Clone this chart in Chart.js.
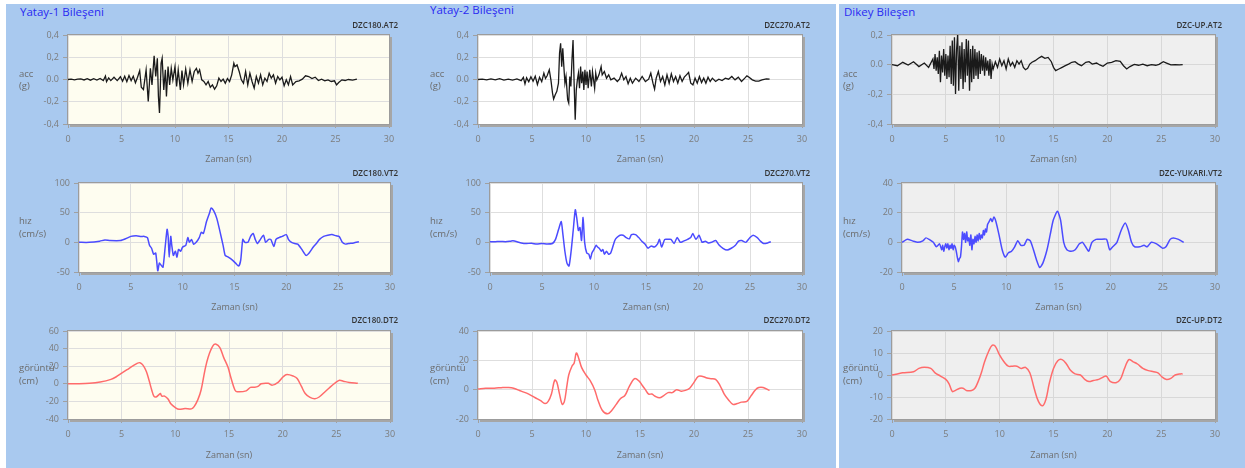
<!DOCTYPE html>
<html><head><meta charset="utf-8">
<script src="https://cdn.jsdelivr.net/npm/chart.js@4.4.0/dist/chart.umd.min.js"></script>
<style>
html,body{margin:0;padding:0;background:#fff;}
#page{position:relative;width:1245px;height:468px;overflow:hidden;background:#fff;font-family:"Open Sans",sans-serif;}
.blue{position:absolute;background:#a9c9ef;}
canvas{position:absolute;}
.hdr{position:absolute;color:#2a2af2;font-size:11.5px;line-height:14px;white-space:nowrap;}
.ttl{position:absolute;color:#333;font-size:8px;font-weight:600;line-height:10px;white-space:nowrap;transform:translateX(-100%);}
.yt{position:absolute;color:#6b6b6b;font-size:9.5px;white-space:nowrap;}
</style></head>
<body>
<div id="page">
  <div class="blue" style="left:6px;top:4px;width:830px;height:464px"></div>
  <div class="blue" style="left:839px;top:4px;width:406px;height:464px"></div>
  <div class="hdr" style="left:20px;top:5px">Yatay-1 Bileşeni</div>
  <div class="hdr" style="left:430px;top:3px">Yatay-2 Bileşeni</div>
  <div class="hdr" style="left:844px;top:5px">Dikey Bileşen</div>
</div>
<script>
// ---------- data ----------
const xTicks = [0,5,10,15,20,25,30];
const xTickLabels = ['0','5','10','15','20','25','30'];
const accTicksA = [-0.4,-0.2,0,0.2,0.4];
const accLabelsA = ['-0,4','-0,2','0.0','0,2','0,4'];
const accTicksB = [-0.4,-0.2,0,0.2];
const accLabelsB = ['-0,4','-0,2','0.0','0,2'];
const velTicksA = [-50,0,50,100];
const velLabelsA = ['-50','0','50','100'];
const velTicksB = [-20,0,20,40];
const velLabelsB = ['-20','0','20','40'];
const dispTicksA = [-40,-20,0,20,40,60];
const dispLabelsA = ['-40','-20','0','20','40','60'];
const dispTicksB = [-20,0,20,40];
const dispLabelsB = ['-20','0','20','40'];
const dispTicksC = [-20,-10,0,10,20];
const dispLabelsC = ['-20','-10','0','10','20'];

const acc1T = [0,0.3,0.6,0.9,1.2,1.5,1.8,2.1,2.4,2.7,3.0,3.3,3.5,3.6,3.8,4.0,4.3,4.6,4.9,5.1,5.3,5.5,5.7,5.9,6.1,6.3,6.5,
6.7,6.85,7.05,7.3,7.5,7.7,7.85,8.05,8.2,8.35,8.45,8.55,8.7,8.8,8.95,9.1,9.2,9.35,9.5,9.65,9.8,10.0,10.15,10.3,10.5,10.65,10.8,11.0,11.2,11.4,11.6,11.8,12.0,12.15,12.3,12.5,12.7,12.9,13.1,13.3,13.5,13.7,13.9,14.1,14.3,14.5,14.7,14.9,15.1,15.3,15.5,15.6,15.8,16.0,16.2,16.4,16.6,16.8,17.0,17.2,17.4,17.6,17.8,18.0,18.2,18.4,18.6,18.8,19.0,19.2,19.4,19.6,19.8,20.0,20.2,20.4,20.6,20.8,21.0,21.3,21.6,21.9,22.2,22.5,22.8,23.1,23.4,23.7,24.0,24.3,24.6,24.9,25.1,25.3,25.6,25.9,26.2,26.6,27.0];
const acc1V = [0,0.003,-0.003,0.004,0.006,-0.004,0.008,-0.006,0.007,-0.005,0.01,-0.01,0.03,-0.02,0.015,-0.01,0.02,-0.01,0.025,-0.015,0.03,-0.02,0.035,-0.01,0.03,-0.03,0.02,
0.08,-0.07,-0.09,0.087,-0.197,0.1,-0.048,0.212,0.027,0.191,-0.152,-0.30,0.146,0.191,-0.093,0.087,-0.152,0.116,-0.048,0.1,-0.003,0.116,-0.063,0.087,-0.093,0.08,-0.048,0.093,-0.033,0.087,-0.018,0.072,0.1,0.057,0.087,-0.003,-0.018,-0.048,-0.018,-0.069,-0.048,-0.087,-0.057,0.012,-0.018,0.003,-0.033,0.009,-0.018,0.042,0.146,0.116,0.131,0.072,-0.003,-0.033,0.072,-0.048,0.057,-0.018,-0.078,0.027,-0.033,0.042,-0.048,0.012,-0.018,0.057,0.012,0.042,-0.033,0.027,-0.003,0.021,-0.057,-0.003,-0.048,0.027,-0.048,-0.018,-0.012,0.003,0.033,0.027,0.009,0.021,-0.009,0.003,-0.012,-0.003,-0.018,-0.012,-0.048,-0.027,-0.003,-0.009,0,-0.006,0.003];

const acc2T = [0,0.4,0.8,1.2,1.6,2.0,2.4,2.8,3.2,3.6,4.0,4.2,4.35,4.5,4.7,4.9,5.1,5.3,5.5,5.7,5.9,
6.1,6.25,6.4,6.6,6.75,6.9,7.0,7.15,7.3,7.45,7.55,7.65,7.75,7.85,7.95,8.05,8.15,8.3,8.4,8.5,8.6,8.7,8.8,8.9,9.0,9.1,9.2,9.3,9.4,9.5,9.6,9.7,9.8,9.9,10.0,10.1,10.2,10.35,10.5,10.6,10.8,10.9,11.0,11.2,11.4,11.5,11.7,11.9,12.1,12.3,12.6,12.9,13.1,13.3,13.5,13.7,13.9,14.1,14.3,14.6,14.9,15.2,15.5,15.8,16.0,16.2,16.35,16.5,16.7,16.9,17.1,17.3,17.5,17.7,17.9,18.1,18.3,18.5,18.7,18.9,19.1,19.3,19.5,19.7,19.9,20.1,20.3,20.5,20.7,20.9,21.1,21.3,21.5,21.7,22.0,22.3,22.6,22.9,23.2,23.5,23.8,24.1,24.4,24.7,24.9,25.1,25.4,25.7,26.0,26.3,26.7,27.0];
const acc2V = [0,0.004,-0.003,0.005,-0.004,0.008,-0.006,0.004,-0.005,0.006,-0.01,0.02,-0.04,0.015,-0.02,0.025,-0.015,0.03,-0.045,0.02,-0.02,
0.057,0.01,0.033,0.087,-0.003,-0.122,-0.176,-0.137,-0.107,-0.033,0.236,0.325,0.116,0.281,0.116,-0.033,0.027,-0.182,-0.212,0.027,-0.063,0.176,0.355,-0.033,-0.361,-0.093,-0.003,0.057,-0.078,0.116,-0.033,0.072,-0.093,0.087,-0.048,0.072,-0.078,0.087,-0.063,0.072,-0.078,0.057,-0.003,0.042,0.116,0.042,0.072,0.012,0.042,-0.003,0.012,-0.018,0.003,0.057,-0.003,0.027,-0.039,0.012,-0.033,0.012,-0.018,0.027,-0.018,0.003,0.057,-0.033,-0.087,0.012,0.072,-0.018,0.027,-0.048,0.042,-0.033,0.051,-0.018,0.027,-0.033,0.033,-0.018,0.021,0.042,0.063,-0.033,-0.048,0.012,-0.033,0.027,-0.027,0.012,-0.033,0.021,-0.018,0.012,-0.018,0.003,-0.009,0.012,0.003,0.027,-0.003,0.021,-0.018,0.012,0.033,0.021,-0.003,-0.015,-0.015,-0.003,0.006,0.003];

const acc3T = [0,0.5,1.0,1.5,2.0,2.5,3.0,3.4,3.8,3.9,4.0,4.1,4.2,4.3,4.4,4.5,4.6,4.7,4.8,4.9,5.0,5.1,5.2,5.3,5.4,5.5,5.6,5.7,5.8,5.9,6.0,6.1,6.2,6.3,6.4,6.5,6.6,6.7,6.8,6.9,7.0,7.1,7.2,7.3,7.4,7.5,7.6,7.7,7.8,7.9,8.0,8.1,8.2,8.3,8.4,8.5,8.6,8.7,8.8,8.9,9.0,9.1,9.2,9.3,9.4,9.6,9.8,10.0,10.2,10.4,10.6,10.8,11.0,11.2,11.4,11.6,11.8,12.0,12.2,12.4,12.6,12.8,13.0,13.3,13.6,13.9,14.2,14.5,14.8,15.0,15.2,15.5,15.8,16.1,16.4,16.7,17.0,17.3,17.6,18.0,18.3,18.6,19.0,19.3,19.6,20.0,20.4,20.8,21.2,21.5,21.8,22.1,22.5,22.9,23.3,23.7,24.1,24.5,24.8,25.2,25.5,25.9,26.3,26.7,27.0];
const acc3V = [0,-0.007,0.016,-0.002,0.02,-0.013,0.011,-0.018,0.038,-0.029,0.072,-0.04,0.049,-0.063,0.094,-0.119,0.061,-0.052,0.106,-0.074,0.072,-0.097,0.061,-0.085,0.128,-0.13,0.162,-0.142,0.184,-0.198,0.106,0.207,-0.175,0.128,-0.097,0.151,-0.164,0.106,-0.119,0.173,-0.074,0.162,-0.175,0.106,-0.119,0.128,-0.097,0.106,-0.074,0.083,-0.097,0.094,-0.063,0.072,-0.04,0.061,-0.074,0.049,-0.04,0.027,-0.074,0.038,-0.097,0.004,-0.029,0.02,-0.018,0.038,-0.007,0.027,-0.029,0.038,-0.007,0.016,-0.018,0.027,0.004,0.027,-0.018,-0.034,-0.025,0.004,0.016,0.027,0.043,0.056,0.043,0.049,0.02,-0.018,-0.04,-0.029,-0.018,-0.007,0.004,0.016,0.02,0.004,-0.007,0.016,0.02,0.004,0.011,-0.002,-0.011,0.011,0.016,0.027,0.022,-0.007,-0.029,-0.013,0.002,-0.004,0.004,-0.007,0,-0.004,0.002,0.02,0.011,-0.002,0,-0.002,0];

const vel1T = [0,1,2,2.5,3,4,4.5,5,5.5,6,6.3,6.6,6.8,7.0,7.2,7.4,7.6,7.75,7.9,8.1,8.3,8.5,8.6,8.7,8.85,8.95,9.1,9.3,9.45,9.6,9.8,10.0,10.3,10.5,10.65,10.85,11.05,11.3,11.6,11.8,12.0,12.3,12.6,12.75,13.0,13.3,13.6,13.9,14.1,14.4,14.8,15.1,15.4,15.6,15.8,16.0,16.3,16.55,16.8,17.0,17.2,17.5,17.8,18.0,18.3,18.5,18.8,19.0,19.3,19.6,20.0,20.2,20.5,20.8,21.1,21.5,21.9,22.2,22.6,22.9,23.2,23.6,24.0,24.4,24.8,25.1,25.4,25.7,26.0,26.5,27.0];
const vel1V = [0,0,2,4,3,3,6,10,11,10,10,8,-5,-10,-20,-18,-48,-35,-38,-42,-10,22,10,-25,10,-5,-22,-15,-25,-12,-15,-8,-5,8,0,5,-3,0,8,17,15,35,50,58,53,40,18,-5,-22,-25,-30,-35,-40,-30,5,0,0,10,15,5,-2,5,12,0,5,5,-7,5,8,10,13,5,0,-2,-3,-12,-22,-18,-8,-2,5,10,12,13,11,10,0,-3,-2,-1,1];

const vel2T = [0,0.5,1,1.5,2,2.2,2.6,3,3.5,4,4.5,5,5.5,6.0,6.3,6.6,6.85,7.0,7.2,7.4,7.6,7.8,8.0,8.2,8.35,8.5,8.65,8.8,8.95,9.1,9.3,9.5,9.65,9.8,10.0,10.2,10.35,10.5,10.7,10.85,11.0,11.2,11.4,11.6,11.8,12.0,12.2,12.5,12.8,13.1,13.4,13.6,14.0,14.3,14.6,14.9,15.2,15.5,15.8,16.1,16.3,16.5,16.8,17.1,17.4,17.7,18.0,18.3,18.6,19.0,19.3,19.5,19.8,20.1,20.4,20.7,21.0,21.3,21.7,22.0,22.4,22.8,23.2,23.6,23.9,24.2,24.6,25.0,25.3,25.7,26.0,26.3,26.7,27.0];
const vel2V = [1,1,1.5,1,2,2.5,1,-1,-2,-1.5,-3,-2,-3,-2,5,22,35,15,-15,-35,-40,-15,20,55,40,20,25,3,42,0,-18,-20,-28,-18,-12,-5,-8,-10,-15,-12,-20,-15,-20,-18,-8,3,8,12,12,8,6,13,13,8,2,-3,-10,-6,-8,-3,5,-8,5,5,5,-2,8,0,2,5,8,15,5,12,0,2,-1,0,3,-4,-10,-13,-10,-5,2,3,0,8,12,8,2,-2,-1,1];

const vel3T = [0,0.5,1,1.5,2,2.3,2.6,3,3.3,3.6,3.8,3.9,4.0,4.1,4.2,4.3,4.4,4.5,4.6,4.7,4.8,4.9,5.0,5.1,5.2,5.3,5.4,5.5,5.6,5.7,5.8,5.9,6.0,6.1,6.2,6.3,6.4,6.5,6.6,6.7,6.8,6.9,7.0,7.1,7.2,7.3,7.4,7.5,7.6,7.7,7.8,7.9,8.0,8.1,8.2,8.35,8.5,8.65,8.8,9.0,9.3,9.6,9.9,10.2,10.5,10.8,11.1,11.4,11.7,12.0,12.3,12.6,12.9,13.2,13.5,13.9,14.2,14.5,14.9,15.2,15.5,15.8,16.2,16.6,17.0,17.3,17.6,17.9,18.2,18.6,19.0,19.6,19.9,20.2,20.6,21.0,21.4,21.7,22.0,22.3,22.8,23.2,23.5,23.9,24.4,24.8,25.0,25.3,25.7,26.0,26.5,27.0];
const vel3V = [0,2,1,0,1,3,2,0,-3,-1,-5,-2,-6,-3,-1,-4,-1,-5,-2,-4,-1,-5,-2,-3,-6,-10,-13,-11,-10,-3,7,2,6,0,7,1,3,-2,5,-5,2,-1,4,0,5,1,6,2,5,3,8,5,9,7,12,14,16,14,17,14,5,-5,-10,-7,-6,-3,1,-2,-2,2,1,-5,-12,-17,-14,-5,5,15,21,15,0,-5,-6,-5,-1,0,-3,-6,0,2,2,2,-5,-3,0,8,13,8,0,-3,-3,-2,-3,0,-1,-3,-4,-3,2,3,2,0];

const disp1T = [0,1,2,3,4,4.5,5,5.5,6,6.4,6.7,7.0,7.3,7.55,7.8,8.0,8.2,8.5,8.6,8.75,9.0,9.3,9.6,10.0,10.35,10.9,11.5,11.75,12.1,12.4,12.75,13.05,13.5,13.8,14.15,14.5,14.9,15.2,15.55,15.75,16.6,17.0,17.4,17.7,18.0,18.65,19.05,19.6,20.05,20.4,21.0,21.35,21.75,22.1,22.55,23.0,23.4,23.95,24.4,24.9,25.3,25.65,26.2,27.0];
const disp1V = [0,0,0.5,2,5,8,12,16,20,23,24,21,14,4,-7,-14,-15,-12,-11,-14,-14,-17,-23,-27,-29,-28,-28.5,-26,-18,-7,15,30,43,45,41,30,19,6,-7,-9,-8,-4,-4,-3,0,0.5,-1.5,2,8,10.5,8.7,6,-3,-11,-15.5,-17,-15,-9,-4,1,4,3,1.5,0.5];

const disp2T = [0,0.7,1.5,2.3,2.8,3.3,4.0,4.7,5.3,5.8,6.2,6.5,6.8,7.1,7.3,7.55,7.8,8.0,8.2,8.4,8.7,8.9,9.1,9.3,9.6,10.0,10.4,10.8,11.1,11.5,12.0,12.4,12.8,13.2,13.6,14.0,14.5,14.9,15.2,15.5,15.8,16.1,16.4,16.8,17.2,17.6,18.0,18.4,18.8,19.2,19.6,20.0,20.4,20.8,21.2,21.6,22.0,22.4,22.8,23.2,23.6,24.0,24.4,24.9,25.3,25.7,26.0,26.4,27.0];
const disp2V = [0.5,1,1,1.5,1.5,1,-1,-3,-5.5,-7.5,-9.5,-8,-3,6.5,5,-3,-10,-8,1,10,16,18,25,22,15,10,6,0,-7,-14,-16.5,-14,-10,-6,-4,2,7.5,6,3,0,-3,-3,-4.5,-5.5,-4,-2,-2,0,-1,-0.5,1,5,9,9,8,7.5,7,3,-3,-7,-10,-9.5,-8.5,-8,-4,0,1.5,1.5,-0.5];

const disp3T = [0,0.5,1,2,2.5,3,3.6,4,4.5,5,5.3,5.6,5.9,6.3,6.6,6.9,7.4,7.7,8.0,8.3,8.6,9.0,9.3,9.6,10.0,10.4,10.8,11.2,11.6,12.0,12.4,12.8,13.2,13.6,14.0,14.3,14.6,15.0,15.4,15.8,16.2,16.6,17.0,17.5,17.9,18.3,18.7,19.2,19.6,19.9,20.3,20.8,21.2,21.6,22.0,22.4,22.8,23.3,23.8,24.3,24.7,25.1,25.5,25.9,26.3,26.8,27.0];
const disp3V = [0,0.5,1,1.5,3,3.5,3,1,-0.5,-2,-4,-7.5,-7,-6,-6,-7,-7,-6,-3,1,6,11,13.5,13,9,6,4,4,4,3,3.5,1,-6,-12,-14,-11,-4,3,6.5,7,5,2,0.5,0,-2,-3,-2.5,-2,-1,-0.5,-3,-3.5,-2,3,7,6,5,3,2,1.5,1,-1,-2,-1.5,0,0.5,0.5];

// ---------- layout ----------
const page = document.getElementById('page');
const COLS = [
  {left:6, width:409, bg:'#fefdf0', grid:'#dedede', ylx:19},
  {left:415, width:421, bg:'#ffffff', grid:'#dedede', ylx:430},
  {left:839, width:406, bg:'#efefef', grid:'#d8d8d8', ylx:843}
];
const ROWS = [
  {top:16, height:150, T:35, B:124, xtp:1, ttlY:20, yt:['acc','(g)'], ytTop:68, ytLh:12},
  {top:166, height:148, T:183, B:272, xtp:1, ttlY:168, yt:['hız','(cm/s)'], ytTop:214, ytLh:13},
  {top:312, height:156, T:331, B:419, xtp:7, ttlY:315, yt:['görüntü','(cm)'], ytTop:361, ytLh:13}
];

const framePlugin = {
  id:'frame',
  beforeDraw(chart, args, o){
    const {ctx, chartArea:a} = chart;
    ctx.save(); ctx.fillStyle = o.bg; ctx.fillRect(a.left, a.top, a.right-a.left, a.bottom-a.top); ctx.restore();
  },
  afterDraw(chart){
    const {ctx, chartArea:a} = chart;
    ctx.save();
    ctx.fillStyle = '#a6a6a6';
    ctx.fillRect(a.right, a.top+2, 3, a.bottom-a.top+1);
    ctx.fillRect(a.left+2, a.bottom, a.right-a.left+1, 3);
    ctx.strokeStyle = '#9c9c9c'; ctx.lineWidth = 1;
    ctx.strokeRect(a.left-0.5, a.top-0.5, a.right-a.left+1, a.bottom-a.top+1);
    ctx.restore();
  }
};

function panel(ci, ri, o){
  const c = COLS[ci], r = ROWS[ri];
  const cv = document.createElement('canvas');
  cv.width = c.width; cv.height = r.height;
  cv.style.left = c.left+'px'; cv.style.top = r.top+'px';
  cv.style.width = c.width+'px'; cv.style.height = r.height+'px';
  page.appendChild(cv);
  const n = Math.min(o.t.length, o.v.length);
  const data = [];
  for (let i=0;i<n;i++) data.push({x:o.t[i], y:o.v[i]});
  const tickFont = {family:'"Open Sans"', size:9};
  new Chart(cv, {
    type:'line',
    data:{datasets:[{data, borderColor:o.color, borderWidth:o.lw, pointRadius:0, tension:o.tension, fill:false}]},
    options:{
      responsive:false, animation:false, events:[],
      layout:{padding:{left:0, top:r.T-r.top, right:c.left+c.width-o.R, bottom:0}},
      plugins:{legend:{display:false}, tooltip:{enabled:false}, frame:{bg:c.bg}},
      scales:{
        x:{type:'linear', min:0, max:30,
           afterBuildTicks:s=>{s.ticks = xTicks.map(v=>({value:v}));},
           ticks:{color:'#7c7c7c', font:tickFont, padding:6, maxRotation:0, autoSkip:false, callback:(v,i)=>xTickLabels[i]},
           grid:{color:c.grid, tickLength:4, tickColor:'#a0a0a0'}, border:{display:false},
           title:{display:true, text:'Zaman (sn)', color:'#6e6e6e', font:{family:'"Open Sans"', size:9}, padding:{top:0,bottom:r.xtp}},
           afterFit:s=>{s.height = r.top + r.height - r.B;}},
        y:{type:'linear', min:o.ymin, max:o.ymax,
           afterBuildTicks:s=>{s.ticks = o.yt.map(v=>({value:v}));},
           ticks:{color:'#7c7c7c', font:tickFont, padding:4, autoSkip:false, callback:(v,i)=>o.yl[i]},
           grid:{color:c.grid, tickLength:5, tickColor:'#a0a0a0'}, border:{display:false},
           afterFit:s=>{s.width = o.L - c.left;}}
      }
    },
    plugins:[framePlugin]
  });
  // texts
  const t = document.createElement('div');
  t.className = 'ttl'; t.textContent = o.title;
  t.style.left = o.ttlX+'px'; t.style.top = r.ttlY+'px';
  page.appendChild(t);
  const y = document.createElement('div');
  y.className = 'yt';
  y.style.left = c.ylx+'px'; y.style.top = r.ytTop+'px'; y.style.lineHeight = r.ytLh+'px';
  y.innerHTML = r.yt[0] + '<br>' + r.yt[1];
  page.appendChild(y);
}

const ACC = '#1a1a1a', VEL = '#4b4bff', DISP = '#ff6b6b';
panel(0,0,{t:acc1T,v:acc1V,L:68,R:389,ymin:-0.4,ymax:0.4,yt:accTicksA,yl:accLabelsA,color:ACC,lw:1.3,tension:0,title:'DZC180.AT2',ttlX:398});
panel(0,1,{t:vel1T,v:vel1V,L:79,R:390,ymin:-50,ymax:100,yt:velTicksA,yl:velLabelsA,color:VEL,lw:1.5,tension:0.2,title:'DZC180.VT2',ttlX:398});
panel(0,2,{t:disp1T,v:disp1V,L:68,R:390,ymin:-40,ymax:60,yt:dispTicksA,yl:dispLabelsA,color:DISP,lw:1.5,tension:0.35,title:'DZC180.DT2',ttlX:398});
panel(1,0,{t:acc2T,v:acc2V,L:478,R:802,ymin:-0.4,ymax:0.4,yt:accTicksA,yl:accLabelsA,color:ACC,lw:1.3,tension:0,title:'DZC270.AT2',ttlX:810});
panel(1,1,{t:vel2T,v:vel2V,L:490,R:802,ymin:-50,ymax:100,yt:velTicksA,yl:velLabelsA,color:VEL,lw:1.5,tension:0.2,title:'DZC270.VT2',ttlX:810});
panel(1,2,{t:disp2T,v:disp2V,L:478,R:802,ymin:-20,ymax:40,yt:dispTicksB,yl:dispLabelsB,color:DISP,lw:1.5,tension:0.35,title:'DZC270.DT2',ttlX:810});
panel(2,0,{t:acc3T,v:acc3V,L:892,R:1215,ymin:-0.4,ymax:0.2,yt:accTicksB,yl:accLabelsB,color:ACC,lw:1.3,tension:0,title:'DZC-UP.AT2',ttlX:1222});
panel(2,1,{t:vel3T,v:vel3V,L:902,R:1215,ymin:-20,ymax:40,yt:velTicksB,yl:velLabelsB,color:VEL,lw:1.5,tension:0.2,title:'DZC-YUKARI.VT2',ttlX:1222});
panel(2,2,{t:disp3T,v:disp3V,L:892,R:1215,ymin:-20,ymax:20,yt:dispTicksC,yl:dispLabelsC,color:DISP,lw:1.5,tension:0.35,title:'DZC-UP.DT2',ttlX:1222});
</script>
</body></html>
